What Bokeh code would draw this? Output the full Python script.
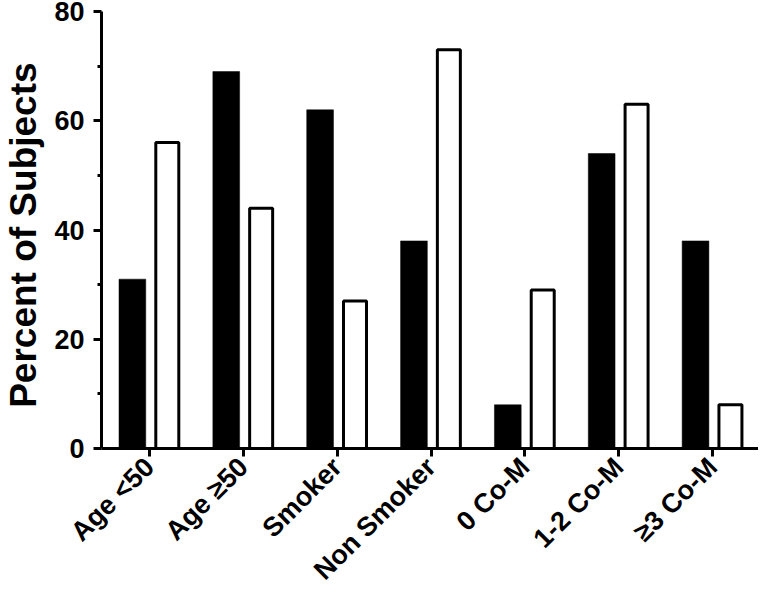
import math
from bokeh.plotting import figure
from bokeh.models import ColumnDataSource, FixedTicker, Range1d
from bokeh.transform import dodge
from bokeh.embed import file_html
from bokeh.resources import INLINE

categories = ["Age <50", "Age \u226550", "Smoker", "Non Smoker", "0 Co-M", "1-2 Co-M", "\u22653 Co-M"]
black_values = [31, 69, 62, 38, 8, 54, 38]
white_values = [56, 44, 27, 73, 29, 63, 8]
y_ticks = [0, 20, 40, 60, 80]
y_title = "Percent of  Subjects"

positions = list(range(len(categories)))
source = ColumnDataSource(data=dict(x=positions, black=black_values, white=white_values))

FONT = "Liberation Sans"

p = figure(width=758, height=599, output_backend="svg", toolbar_location=None,
           x_range=Range1d(-0.511, 6.489), y_range=Range1d(0, 80),
           min_border_left=100, min_border_right=0, min_border_top=11, min_border_bottom=149)

p.vbar(x=dodge("x", -0.182, range=p.x_range), top="black", width=0.285, bottom=0,
       source=source, fill_color="black", line_color="black", line_width=0.5)
p.vbar(x=dodge("x", 0.19, range=p.x_range), top="white", width=0.245, bottom=0,
       source=source, fill_color="white", line_color="black", line_width=3)

p.xgrid.visible = False
p.ygrid.visible = False
p.outline_line_color = None

# x axis
xa = p.xaxis[0]
xa.ticker = FixedTicker(ticks=positions)
xa.major_label_overrides = {i: c for i, c in zip(positions, categories)}
xa.major_label_orientation = math.pi / 4
xa.axis_line_width = 3
xa.major_tick_line_width = 3
xa.major_tick_out = 8
xa.major_tick_in = 0
xa.minor_tick_out = 0
xa.minor_tick_in = 0
xa.major_label_text_font = FONT
xa.major_label_text_font_style = "bold"
xa.major_label_text_font_size = "27px"
xa.major_label_text_color = "black"
xa.major_label_standoff = 6

# y axis
ya = p.yaxis[0]
ya.ticker = FixedTicker(ticks=y_ticks, minor_ticks=[10, 30, 50, 70])
ya.axis_line_width = 3
ya.major_tick_line_width = 3
ya.minor_tick_line_width = 3
ya.major_tick_out = 8
ya.major_tick_in = 0
ya.minor_tick_out = 4
ya.minor_tick_in = 0
ya.major_label_text_font = FONT
ya.major_label_text_font_style = "bold"
ya.major_label_text_font_size = "27px"
ya.major_label_text_color = "black"
ya.major_label_standoff = 9
ya.axis_label = y_title
ya.axis_label_text_font = FONT
ya.axis_label_text_font_style = "bold"
ya.axis_label_text_font_size = "37px"
ya.axis_label_text_color = "black"
ya.axis_label_text_line_height = 1.0
ya.axis_label_standoff = 7

open("out.html", "w").write(file_html(p, INLINE))
